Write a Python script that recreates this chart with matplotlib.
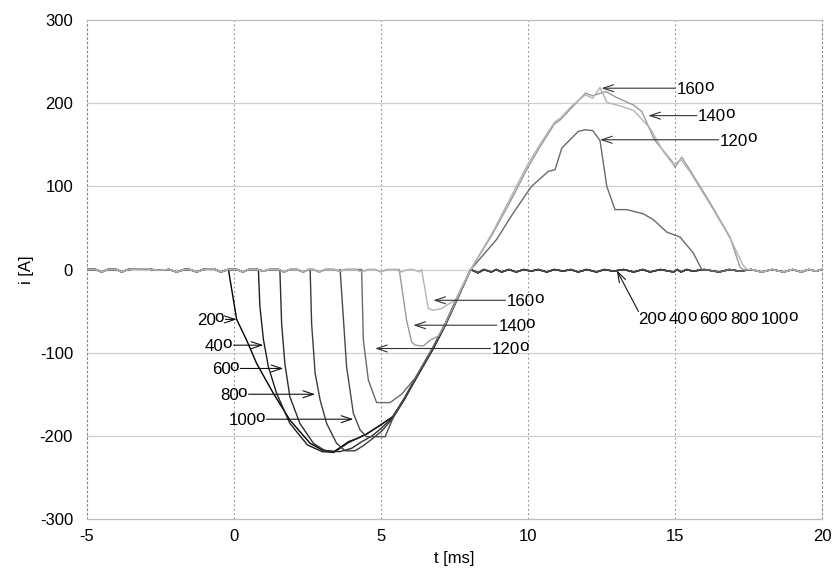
import matplotlib
matplotlib.use("Agg")
import matplotlib.pyplot as plt

plt.rcParams['font.family'] = ['Liberation Sans', 'DejaVu Sans']
plt.rcParams['axes.unicode_minus'] = False

FS = 12
FS_LAB = 12.2

# ---------------- data ----------------
angles = [20, 40, 60, 80, 100, 120, 140, 160]
colors = ['#000000', '#1e1e1e', '#2e2e2e', '#3c3c3c', '#4a4a4a', '#6a6a6a', '#9a9a9a', '#b4b4b4']

# small ripple on the zero line before conduction
ripple_pre_t = [-5.0, -4.7, -4.5, -4.3, -4.0, -3.82, -3.6, -3.0, -2.6, -2.2, -1.95, -1.7,
                -1.5, -1.27, -1.05, -0.7, -0.45, -0.2, 0.1, 0.3, 0.5, 0.8, 1.0, 1.2,
                1.5, 1.7, 1.9, 2.15, 2.35, 2.55, 2.7, 2.9, 3.1, 3.4, 3.6, 3.8,
                4.15, 4.35, 4.55, 4.8, 5.0, 5.2, 5.5, 5.7, 5.9, 6.1, 6.3, 6.5]
ripple_pre_i = [0, 0, -3, 0, 0, -3, 0, 1, -1, 0, -3, 0,
                0, -3, 0, 1, -3, 0, 0, -3, 0, 0, -2, 0,
                0, -3, 0, 0, -3, 0, 0, -3, 0, 0, -2, 0,
                0, -3, 0, 0, -3, 0, 0, -3, 0, 0, -3, 0]

# small ripple on the zero line after conduction
ripple_post_t = [8.3, 8.5, 8.75, 8.92, 9.1, 9.35, 9.6, 9.85, 10.1, 10.35, 10.64, 10.9,
                 11.2, 11.45, 11.71, 12.0, 12.33, 12.6, 12.9, 13.25, 13.6, 13.9, 14.15, 14.5,
                 14.95, 15.08, 15.2, 15.4, 15.6, 16.0, 16.5, 16.85, 17.2, 17.6, 17.95, 18.3,
                 18.7, 19.0, 19.3, 19.55, 19.8, 20.0]
ripple_post_i = [-4, 0, -3, 0, -3, 0, -3, 0, -2, 0, -3, 0,
                 -2, 0, -3, 0, -3, 0, -2, 0, -3, 0, -3, 0,
                 -3, 0, -3, 0, -2, 0, -3, 0, -2, 0, -3, 0,
                 -3, 0, -3, 0, -2, 0]

# conduction parts of each current pulse  (t [ms], i [A])
t_20 = [-0.19, 0.09, 0.43, 0.77, 1.34, 1.9, 2.59, 3.0, 3.4, 3.65, 3.9, 4.2, 4.5, 4.9, 5.4, 5.8, 6.15, 6.77, 7.18, 7.57, 8.05]
i_20 = [0, -60, -85, -113, -149, -181, -209, -217, -219, -213, -207, -203, -198, -189, -177, -155, -133, -95, -67, -37, 0]

t_40 = [0.83, 0.88, 1.0, 1.17, 1.45, 1.9, 2.5, 3.0, 3.4, 3.65, 3.9, 4.2, 4.5, 4.9, 5.4, 5.8, 6.15, 6.77, 7.18, 7.57, 8.05]
i_40 = [0, -44, -84, -117, -149, -185, -211, -219, -220, -214, -208, -203, -198, -189, -177, -155, -133, -95, -67, -37, 0]

t_60 = [1.56, 1.62, 1.73, 1.9, 2.24, 2.7, 3.1, 3.6, 4.0, 4.35, 4.7, 4.97, 5.4, 5.8, 6.15, 6.77, 7.18, 7.57, 8.05]
i_60 = [0, -65, -113, -153, -185, -209, -218, -219, -215, -207, -200, -192, -178, -156, -134, -96, -68, -38, 0]

t_80 = [2.59, 2.64, 2.76, 2.93, 3.15, 3.49, 3.78, 4.12, 4.39, 4.69, 5.03, 5.4, 5.8, 6.15, 6.77, 7.18, 7.57, 8.05]
i_80 = [0, -65, -125, -157, -185, -209, -218, -218, -212, -204, -194, -179, -156, -133, -94, -66, -36, 0]

t_100 = [3.61, 3.83, 4.06, 4.29, 4.51, 5.14, 5.45, 5.8, 6.15, 6.77, 7.18, 7.57, 8.05]
i_100 = [0, -117, -173, -193, -201, -201, -175, -154, -132, -94, -66, -36, 0]

t_120 = [4.34, 4.40, 4.57, 4.85, 5.31, 5.7, 6.15, 6.77, 7.18, 7.57, 8.05, 8.93, 9.5, 10.12,
         10.69, 10.92, 11.15, 11.71, 11.94, 12.2, 12.45, 12.68, 12.96, 13.36, 13.92, 14.26,
         14.72, 15.17, 15.62, 15.91]
i_120 = [0, -85, -133, -160, -160, -150, -131, -93, -65, -35, 0, 36, 68, 100,
         118, 120, 146, 166, 168, 167, 155, 100, 72, 72, 67, 60,
         45, 39, 20, 0]

t_140 = [5.62, 5.87, 6.04, 6.16, 6.44, 6.67, 6.95, 7.18, 7.57, 8.05, 8.8, 9.4, 10.0, 10.4,
         10.9, 11.1, 11.5, 11.95, 12.2, 12.65, 13.0, 13.58, 13.87, 14.3, 14.9, 15.0, 15.23,
         15.5, 16.2, 16.87, 17.21, 17.3]
i_140 = [0, -61, -87, -91, -92, -85, -80, -66, -37, 0, 43, 82, 123, 147,
         175, 180, 195, 212, 209, 214, 207, 198, 190, 156, 130, 123, 135,
         120, 80, 39, 3, 0]

t_160 = [6.38, 6.61, 6.78, 7.06, 7.23, 7.52, 8.05, 8.8, 9.4, 10.0, 10.4, 10.9, 11.1, 11.5,
         11.95, 12.2, 12.45, 12.68, 13.2, 13.6, 14.15, 14.6, 14.95, 15.2, 15.5, 16.2, 16.9,
         17.3, 17.45]
i_160 = [0, -47, -49, -47, -43, -37, 0, 45, 86, 127, 150, 177, 182, 197,
         210, 206, 219, 201, 196, 191, 170, 142, 126, 132, 118, 78, 36,
         6, 0]

pulses_t = [t_20, t_40, t_60, t_80, t_100, t_120, t_140, t_160]
pulses_i = [i_20, i_40, i_60, i_80, i_100, i_120, i_140, i_160]

x_ticks = [-5, 0, 5, 10, 15, 20]
y_ticks = [-300, -200, -100, 0, 100, 200, 300]

# ---------------- figure ----------------
fig = plt.figure(figsize=(8.37, 5.69), dpi=100)
ax = fig.add_axes([87 / 837, 1 - 519 / 569, 735 / 837, 499 / 569])
ax.set_xlim(-5, 20)
ax.set_ylim(-300, 300)
ax.set_xticks(x_ticks)
ax.set_yticks(y_ticks)
ax.tick_params(length=0, labelsize=FS, pad=7)
ax.tick_params(axis='y', pad=10)

# grid
for x in x_ticks[1:-1]:
    ax.axvline(x, color='#8a8a8a', lw=0.8, ls=(0, (1.5, 2.5)), zorder=0)
for y in y_ticks[1:-1]:
    ax.axhline(y, color='#cfcfcf', lw=0.9, zorder=0)
for side in ['top', 'bottom']:
    ax.spines[side].set_color('#bdbdbd')
    ax.spines[side].set_linewidth(0.9)
for side in ['left', 'right']:
    ax.spines[side].set_color('#8a8a8a')
    ax.spines[side].set_linewidth(0.8)
    ax.spines[side].set_linestyle((0, (1.5, 2.5)))

# curves
for ang, tt, ii, c in zip(angles, pulses_t, pulses_i, colors):
    ts = [t for t in ripple_pre_t if t < tt[0]]
    is_ = [v for t, v in zip(ripple_pre_t, ripple_pre_i) if t < tt[0]]
    ts += list(tt)
    is_ += list(ii)
    ts += [t for t in ripple_post_t if t > tt[-1]]
    is_ += [v for t, v in zip(ripple_post_t, ripple_post_i) if t > tt[-1]]
    ax.plot(ts, is_, color=c, lw=1.0, zorder=3)

ax.set_xlabel('t [ms]', fontsize=FS, labelpad=5)
ax.set_ylabel('i [A]', fontsize=FS, labelpad=4)

O_DX, O_DY = -0.7, 2.3


def deg_label(x, yc, num):
    """number followed by a raised full-size 'o'; (x, yc) = left edge, vertical centre"""
    yb = yc - 7.0
    t1 = ax.text(x, yb, str(num), fontsize=FS_LAB, ha='left', va='baseline', zorder=5)
    t2 = ax.annotate('o', xy=(1, yb), xycoords=(t1, 'data'), xytext=(O_DX, O_DY),
                     textcoords='offset points', fontsize=FS_LAB, ha='left', va='baseline', zorder=5)
    return t1, t2


arrow_kw = dict(arrowstyle='->,head_length=0.75,head_width=0.25', lw=0.8, shrinkA=1, shrinkB=0)

# left labels: arrow from label end to curve
left_lab = [(20, -1.27, -60, 0.09), (40, -0.99, -91, 1.0), (60, -0.76, -119, 1.68),
            (80, -0.48, -150, 2.76), (100, -0.19, -180, 4.06)]
for num, x, y, tip in left_lab:
    t1, t2 = deg_label(x, y, num)
    ax.annotate('', xy=(tip, y), xycoords='data', xytext=(1.0, y), textcoords=(t2, 'data'),
                arrowprops=dict(color='#111111', **arrow_kw), zorder=6)

# right labels: arrow from label start to curve
right_lab = [(120, 8.77, -95, 4.80), (140, 8.99, -67, 6.10), (160, 9.28, -37, 6.78),
             (160, 15.06, 218, 12.5), (140, 15.79, 185, 14.09), (120, 16.53, 156, 12.45)]
for num, x, y, tip in right_lab:
    t1, t2 = deg_label(x, y, num)
    ax.annotate('', xy=(tip, y), xycoords='data', xytext=(0.0, y), textcoords=(t1, 'data'),
                arrowprops=dict(color='#333333', **arrow_kw), zorder=6)

# group label for 20..100 deg
prev = None
for k, num in enumerate([20, 40, 60, 80, 100]):
    if prev is None:
        t1, t2 = deg_label(13.75, -59, num)
    else:
        t1 = ax.annotate(str(num), xy=(1, -59 - 7.0), xycoords=(prev, 'data'), xytext=(2.4, 0),
                         textcoords='offset points', fontsize=FS_LAB, ha='left', va='baseline', zorder=5)
        t2 = ax.annotate('o', xy=(1, -59 - 7.0), xycoords=(t1, 'data'), xytext=(O_DX, O_DY),
                         textcoords='offset points', fontsize=FS_LAB, ha='left', va='baseline', zorder=5)
    prev = t2
ax.annotate('', xy=(13.02, -1), xycoords='data', xytext=(13.78, -52), textcoords='data',
            arrowprops=dict(color='#111111', **arrow_kw), zorder=6)

fig.savefig('out.png', dpi=100)
